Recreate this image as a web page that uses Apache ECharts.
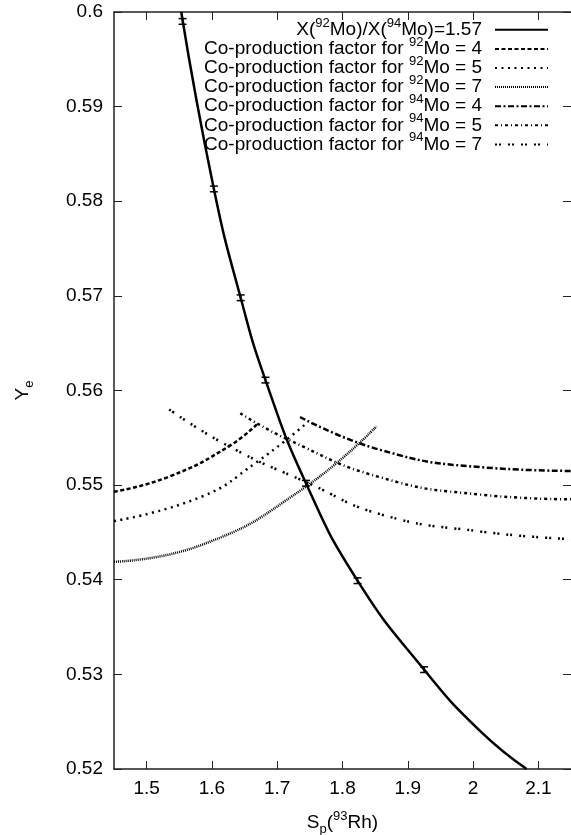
<!DOCTYPE html>
<html><head><meta charset="utf-8">
<script src="https://cdn.jsdelivr.net/npm/echarts@6/dist/echarts.min.js"></script>
<style>html,body{margin:0;padding:0;background:#fff}#c{width:571px;height:835px}</style>
</head><body><div id="c"></div>
<script>
// ---- data ----
const xTicks = [1.5, 1.6, 1.7, 1.8, 1.9, 2.0, 2.1];
const yTicks = [0.52, 0.53, 0.54, 0.55, 0.56, 0.57, 0.58, 0.59, 0.6];

// X(92Mo)/X(94Mo)=1.57 curve
const mainX = [1.553, 1.603, 1.644, 1.682, 1.744, 1.823, 1.925, 2.011, 2.082];
const mainY = [0.6000, 0.5813, 0.5698, 0.5611, 0.5502, 0.5399, 0.5305, 0.5240, 0.5200];

// error bars on the main curve
const ebX = [1.555, 1.603, 1.644, 1.682, 1.744, 1.823, 1.925];
const ebY = [0.5990, 0.5813, 0.5698, 0.5611, 0.5502, 0.5399, 0.5305];
const ebErr = [0.0003, 0.0003, 0.0003, 0.0003, 0.0003, 0.0003, 0.0003];

// co-production factor curves [Sp, Ye]
const co92_4 = [[1.45, 0.5493], [1.5345, 0.5509], [1.626, 0.5541], [1.6715, 0.5566]];
const co92_5 = [[1.45, 0.5462], [1.585, 0.5488], [1.666, 0.5523], [1.7425, 0.5564]];
const co92_7 = [[1.45, 0.5419], [1.585, 0.5437], [1.737, 0.5495], [1.852, 0.5562]];
const co94_4 = [[1.735, 0.5572], [1.859, 0.5537], [2.011, 0.5519], [2.15, 0.5515]];
const co94_5 = [[1.6435, 0.5576], [1.717, 0.5548], [1.859, 0.5508], [2.011, 0.5490], [2.15, 0.5485]];
const co94_7 = [[1.5345, 0.5580], [1.626, 0.5541], [1.748, 0.5502], [1.859, 0.5469], [2.011, 0.5451], [2.15, 0.5443]];

const names = [
  'X(92Mo)/X(94Mo)=1.57',
  'Co-production factor for 92Mo = 4',
  'Co-production factor for 92Mo = 5',
  'Co-production factor for 92Mo = 7',
  'Co-production factor for 94Mo = 4',
  'Co-production factor for 94Mo = 5',
  'Co-production factor for 94Mo = 7'
];

// ---- chart ----
const FONT = "'Liberation Sans', Arial, sans-serif";
const FS = 19;
const chart = echarts.init(document.getElementById('c'), null, {renderer: 'canvas'});
const mainData = mainX.map((x, i) => [x, mainY[i]]);
const ebData = ebX.map((x, i) => [x, ebY[i], ebErr[i]]);

const supStyle = {fontSize: 13, fontFamily: FONT, height: 6, lineHeight: 6, verticalAlign: 'top', color: '#000'};
const subStyle = {fontSize: 13, fontFamily: FONT, height: 6, lineHeight: 6, verticalAlign: 'bottom', color: '#000'};

function lineSeries(name, data, width, dash) {
  return {
    name, type: 'line', data, symbol: 'none', smooth: 0.5,
    lineStyle: {color: '#000', width, type: dash}, itemStyle: {color: '#000'},
    animation: false, z: 3
  };
}

const axisCommon = {
  axisLine: {show: true, lineStyle: {color: '#222', width: 1.5}},
  axisTick: {show: true, inside: true, length: 8, lineStyle: {color: '#222', width: 1}},
  splitLine: {show: false}
};

chart.setOption({
  animation: false,
  backgroundColor: '#fff',
  grid: {left: 114, right: 0, top: 12, bottom: 66, containLabel: false, outerBoundsMode: 'none'},
  xAxis: [
    Object.assign({}, axisCommon, {
      type: 'value', min: 1.45, max: 2.15, position: 'bottom',
      axisTick: Object.assign({}, axisCommon.axisTick, {customValues: xTicks}),
      axisLabel: {customValues: xTicks, margin: 10, fontSize: FS, fontFamily: FONT, color: '#000',
        formatter: v => String(Math.round(v * 10) / 10)},
      name: 'S{sub|p}({sup|93}Rh)', nameLocation: 'middle', nameGap: 44,
      nameTextStyle: {fontSize: FS, fontFamily: FONT, color: '#000', lineHeight: 19, rich: {sup: supStyle, sub: subStyle}}
    }),
    Object.assign({}, axisCommon, {
      type: 'value', min: 1.45, max: 2.15, position: 'top',
      axisTick: Object.assign({}, axisCommon.axisTick, {customValues: xTicks}),
      axisLabel: {show: false}
    })
  ],
  yAxis: [
    Object.assign({}, axisCommon, {
      type: 'value', min: 0.52, max: 0.6, interval: 0.01, position: 'left',
      axisLabel: {margin: 11, fontSize: FS, fontFamily: FONT, color: '#000',
        formatter: v => String(Math.round(v * 100) / 100)},
      name: 'Y{sub|e}', nameLocation: 'middle', nameGap: 82,
      nameTextStyle: {fontSize: FS, fontFamily: FONT, color: '#000', lineHeight: 19, rich: {sup: supStyle, sub: subStyle}}
    }),
    Object.assign({}, axisCommon, {
      type: 'value', min: 0.52, max: 0.6, interval: 0.01, position: 'right',
      axisLine: {show: false},
      axisLabel: {show: false}
    })
  ],
  legend: {
    data: names, orient: 'vertical', align: 'right', right: 22, top: 16.8, padding: 0,
    itemWidth: 53, itemHeight: 14, itemGap: -3.4, selectedMode: false,
    itemStyle: {opacity: 0},
    textStyle: {fontSize: FS, fontFamily: FONT, color: '#000', lineHeight: 19,
      rich: {sup: supStyle, g: {width: 8, fontSize: FS, fontFamily: FONT, lineHeight: 19}}},
    formatter: n => n.replace(/(\d\d)Mo/g, '{sup|$1}Mo') + '{g| }'
  },
  series: [
    lineSeries(names[0], mainData, 2.5, 'solid'),
    lineSeries(names[1], co92_4, 2.5, [4, 2.5]),
    lineSeries(names[2], co92_5, 2.5, [2, 4.5]),
    lineSeries(names[3], co92_7, 2.5, [1, 1]),
    lineSeries(names[4], co94_4, 2.5, [6, 2.5, 2, 2.5]),
    lineSeries(names[5], co94_5, 2.5, [3, 3, 1, 3]),
    lineSeries(names[6], co94_7, 2.5, [2, 2, 2, 7]),
    {
      type: 'custom', name: 'errorbars', data: ebData, z: 4, clip: true,
      renderItem(params, api) {
        const x = api.value(0), y = api.value(1), e = api.value(2);
        const t = api.coord([x, y + e]), b = api.coord([x, y - e]);
        const w = 4, st = {stroke: '#000', lineWidth: 1.5};
        return {type: 'group', children: [
          {type: 'line', shape: {x1: t[0], y1: t[1], x2: b[0], y2: b[1]}, style: st},
          {type: 'line', shape: {x1: t[0] - w, y1: t[1], x2: t[0] + w, y2: t[1]}, style: st},
          {type: 'line', shape: {x1: b[0] - w, y1: b[1], x2: b[0] + w, y2: b[1]}, style: st}
        ]};
      }
    }
  ]
});
</script></body></html>
